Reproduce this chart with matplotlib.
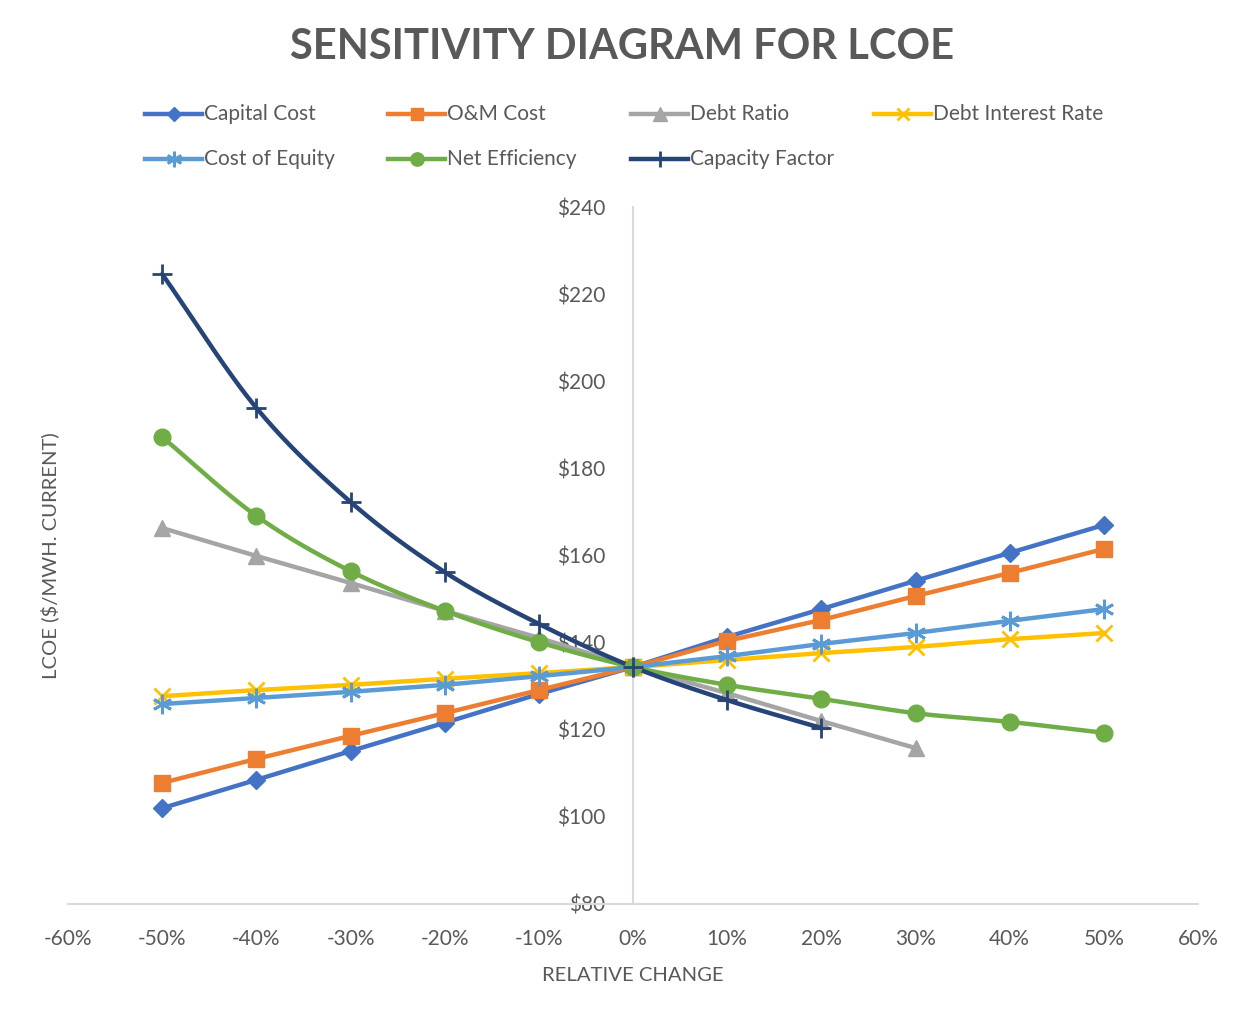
import numpy as np
import matplotlib.pyplot as plt
from matplotlib.lines import Line2D
from matplotlib.ticker import FuncFormatter, MultipleLocator

plt.rcParams['font.family'] = ['Lato', 'DejaVu Sans']

# relative change on the x axis, in percent
change = [-50, -40, -30, -20, -10, 0, 10, 20, 30, 40, 50]

capital_cost = [102.0, 108.5, 115.1, 121.6, 128.2, 134.4, 141.3, 147.7, 154.2, 160.6, 167.0]
om_cost = [107.8, 113.3, 118.6, 123.8, 129.1, 134.4, 140.4, 145.2, 150.7, 156.0, 161.5]
debt_ratio = [166.3, 159.9, 153.7, 147.3, 141.1, 134.4, 128.4, 122.0, 115.8]
debt_interest = [127.7, 129.1, 130.3, 131.7, 133.0, 134.4, 136.0, 137.6, 139.0, 140.8, 142.2]
cost_equity = [125.9, 127.3, 128.7, 130.3, 132.3, 134.4, 136.9, 139.7, 142.2, 145.0, 147.7]
net_eff = [187.2, 169.1, 156.4, 147.3, 140.1, 134.4, 130.3, 127.1, 123.8, 121.8, 119.3]
cap_factor = [224.6, 193.9, 172.3, 156.2, 144.3, 134.4, 126.8, 120.4]

TXT = '#595959'


def smooth(x, y, n=30):
    # Catmull-Rom curve through the points (like Excel's smoothed line)
    x = np.asarray(x, float)
    y = np.asarray(y, float)
    px = np.concatenate([[2 * x[0] - x[1]], x, [2 * x[-1] - x[-2]]])
    py = np.concatenate([[2 * y[0] - y[1]], y, [2 * y[-1] - y[-2]]])
    xs, ys = [], []
    t = np.linspace(0, 1, n)
    for i in range(1, len(px) - 2):
        for p, out in ((px, xs), (py, ys)):
            p0, p1, p2, p3 = p[i - 1], p[i], p[i + 1], p[i + 2]
            c1 = p1 + (p2 - p0) / 6
            c2 = p2 - (p3 - p1) / 6
            out.extend((1 - t) ** 3 * p1 + 3 * (1 - t) ** 2 * t * c1
                       + 3 * (1 - t) * t ** 2 * c2 + t ** 3 * p2)
    return xs, ys


series = [
    ('Capital Cost', capital_cost, '#4472C4', dict(marker='D', ms=9), False),
    ('O&M Cost', om_cost, '#ED7D31', dict(marker='s', ms=11), False),
    ('Debt Ratio', debt_ratio, '#A5A5A5', dict(marker='^', ms=12), False),
    ('Debt Interest Rate', debt_interest, '#FFC000', dict(marker='x', ms=11, mew=2), False),
    ('Cost of Equity', cost_equity, '#5B9BD5', dict(marker=(6, 2, 0), ms=14, mew=2), False),
    ('Net Efficiency', net_eff, '#70AD47', dict(marker='o', ms=12), True),
    ('Capacity Factor', cap_factor, '#264478', dict(marker='+', ms=15, mew=2), True),
]

fig = plt.figure(figsize=(12.49, 10.18), dpi=100)
ax = fig.add_axes([68 / 1249, 1 - 904 / 1018, 1130 / 1249, 697 / 1018])

for name, vals, col, mk, sm in series:
    xv = change[:len(vals)]
    if sm:
        sx, sy = smooth(xv, vals)
        ax.plot(sx, sy, color=col, lw=3.2, solid_capstyle='round', zorder=2)
        ax.plot(xv, vals, ls='none', color=col, mec=col, zorder=3, **mk)
    else:
        ax.plot(xv, vals, color=col, mec=col, lw=3.2, zorder=2, **mk)

ax.set_xlim(-60, 60)
ax.set_ylim(80, 240)
ax.xaxis.set_major_locator(MultipleLocator(10))
ax.yaxis.set_major_locator(MultipleLocator(20))
ax.xaxis.set_major_formatter(FuncFormatter(lambda v, p: f'{v:.0f}%'))
ax.yaxis.set_major_formatter(FuncFormatter(lambda v, p: f'${v:.0f}'))

for s in ['top', 'right']:
    ax.spines[s].set_visible(False)
ax.spines['left'].set_position(('data', 0))
ax.spines['left'].set_color('#D9D9D9')
ax.spines['bottom'].set_color('#D9D9D9')
ax.spines['left'].set_linewidth(1.5)
ax.spines['bottom'].set_linewidth(1.5)
ax.spines['left'].set_zorder(1)
ax.tick_params(length=0, labelsize=15, labelcolor=TXT)
ax.tick_params(axis='y', pad=20)
ax.tick_params(axis='x', pad=18)

ax.set_xlabel('RELATIVE CHANGE', fontsize=14.6, color=TXT, labelpad=13)
fig.text(50 / 1249, 1 - 556 / 1018, 'LCOE ($/MWH. CURRENT)', rotation=90,
         fontsize=14.6, color=TXT, ha='center', va='center')

fig.suptitle('SENSITIVITY DIAGRAM FOR LCOE', x=622 / 1249, y=1 - 47 / 1018,
             va='center', fontsize=30, fontweight='bold', color=TXT)

# legend laid out in a fixed grid, 4 columns
for k, (name, vals, col, mk, sm) in enumerate(series):
    x0 = 145 + 243 * (k % 4)
    y0 = 114 + 45 * (k // 4)
    fy = 1 - y0 / 1018
    fig.add_artist(Line2D([x0 / 1249, (x0 + 57) / 1249], [fy, fy], color=col,
                          lw=3.2, transform=fig.transFigure))
    kw = dict(mk)
    kw['ms'] = kw['ms'] * 0.8
    fig.add_artist(Line2D([(x0 + 28.5) / 1249], [fy], color=col, mec=col,
                          transform=fig.transFigure, **kw))
    fig.text((x0 + 59) / 1249, fy, name, fontsize=15, color=TXT, va='center')

fig.savefig('out.png', dpi=100)
